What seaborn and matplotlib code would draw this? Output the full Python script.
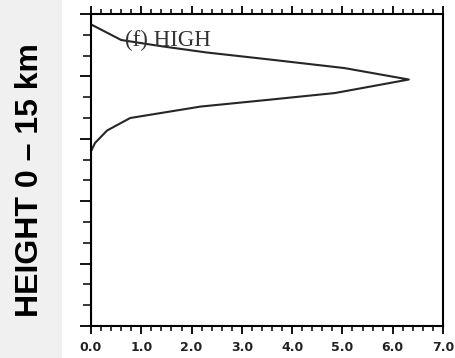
import matplotlib
matplotlib.use("Agg")
import matplotlib.pyplot as plt
import seaborn as sns
import pandas as pd
from matplotlib.patches import Rectangle
from matplotlib.ticker import MultipleLocator

# Data (height in km, value)
heights = [0.0, 8.4, 8.8, 9.4, 10.0, 10.55, 10.87, 11.2, 11.85, 12.4, 12.8, 13.15, 13.45, 13.75, 14.5, 15.0]
values = [0.0, 0.0, 0.08, 0.32, 0.78, 2.18, 3.51, 4.85, 6.32, 5.04, 3.6, 2.3, 1.4, 0.6, 0.0, 0.0]
x_ticks = [0, 1, 2, 3, 4, 5, 6, 7]
x_tick_labels = ["0.0", "1.0", "2.0", "3.0", "4.0", "5.0", "6.0", "7.0"]
panel_label = "(f) HIGH"
side_label = "HEIGHT 0 \u2013 15 km"

sns.set_theme(style="white")
plt.rcParams['font.family'] = ['DejaVu Sans']

df = pd.DataFrame({"value": values, "height": heights})

fig = plt.figure(figsize=(4.55, 3.58), dpi=100)
fig.patch.set_facecolor("white")
fig.patches.append(Rectangle((0, 0), 62 / 455, 1, transform=fig.transFigure,
                             facecolor="#f0f0f0", edgecolor="none", zorder=0))

ax = fig.add_axes([91 / 455, 1 - 326 / 358, 352 / 455, 312 / 358])
sns.lineplot(data=df, x="value", y="height", sort=False, estimator=None,
             orient="y", color="#262626", linewidth=1.5, ax=ax)

ax.set_xlim(0, 7)
ax.set_ylim(0, 15)
ax.set_xlabel("")
ax.set_ylabel("")
ax.set_xticks(x_ticks)
ax.set_xticklabels(x_tick_labels, fontsize=9, fontweight="bold", color="#222222")
ax.xaxis.set_minor_locator(MultipleLocator(0.2))
ax.yaxis.set_major_locator(MultipleLocator(3))
ax.yaxis.set_minor_locator(MultipleLocator(1))
ax.set_yticklabels([])

for s in ax.spines.values():
    s.set_color("black")
    s.set_linewidth(1.5)
    s.set_visible(True)

ax.tick_params(axis="x", which="major", direction="out", length=5.5, width=1.3,
               color="black", top=True, bottom=True, pad=5)
ax.tick_params(axis="x", which="minor", direction="out", length=3.5, width=1.1,
               color="black", top=True, bottom=True)
ax.tick_params(axis="y", which="major", direction="out", length=8, width=1.3,
               color="black", left=True, right=False)
ax.tick_params(axis="y", which="minor", direction="out", length=5.5, width=1.1,
               color="black", left=True, right=False)

ax.text(0.68, 13.75, panel_label, fontsize=16.5, family=["Liberation Serif", "DejaVu Serif"],
        color="#333333", va="center", ha="left")

fig.text(30 / 455, 1 - 180 / 358, side_label, rotation=90, fontsize=23,
         fontweight="bold", family=["Liberation Sans", "DejaVu Sans"],
         ha="center", va="center", color="black")

fig.savefig("out.png", dpi=100)
